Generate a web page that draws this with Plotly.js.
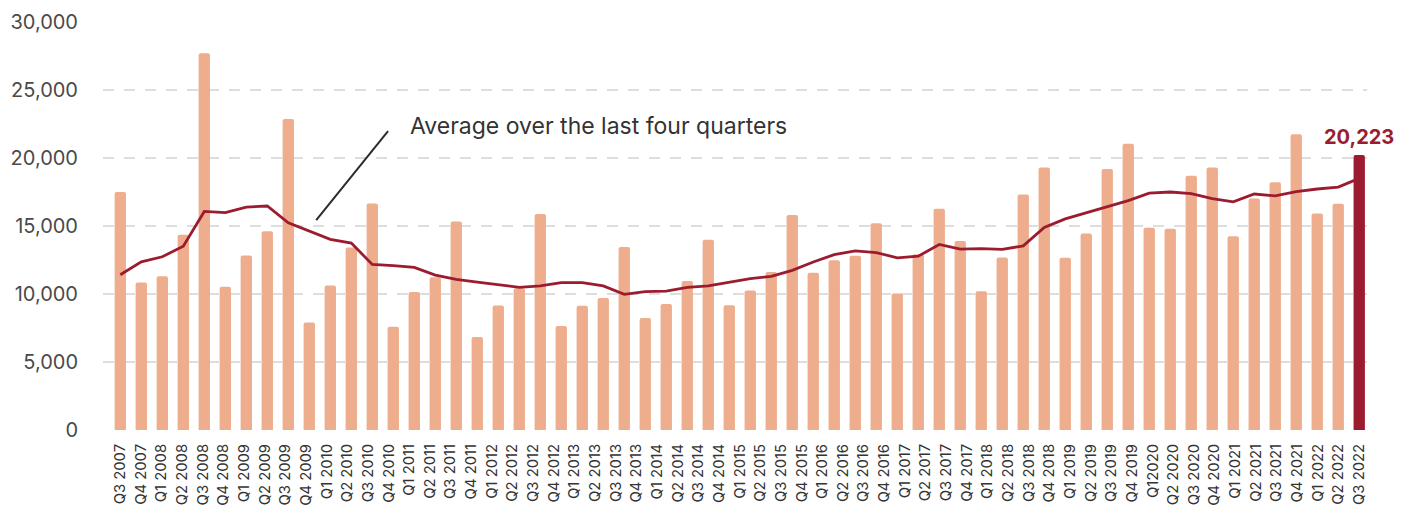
<!DOCTYPE html>
<html>
<head>
<meta charset="utf-8">
<script src="https://cdn.plot.ly/plotly-3.0.1.min.js"></script>
<style>
  html, body { margin: 0; padding: 0; background: #ffffff; }
  #chart { width: 1408px; height: 513px; }
</style>
</head>
<body>
<div id="chart"></div>
<script>
// Tick labels as printed under the chart (61 labels)
const quarterLabels = [
  "Q3 2007","Q4 2007","Q1 2008","Q2 2008","Q3 2008","Q4 2008","Q1 2009","Q2 2009","Q3 2009","Q4 2009",
  "Q1 2010","Q2 2010","Q3 2010","Q4 2010","Q1 2011","Q2 2011","Q3 2011","Q4 2011","Q1 2012","Q2 2012",
  "Q3 2012","Q4 2012","Q1 2013","Q2 2013","Q3 2013","Q4 2013","Q1 2014","Q2 2014","Q3 2014","Q4 2014",
  "Q1 2015","Q2 2015","Q3 2015","Q4 2015","Q1 2016","Q2 2016","Q3 2016","Q4 2016","Q1 2017","Q2 2017",
  "Q3 2017","Q4 2017","Q1 2018","Q2 2018","Q3 2018","Q4 2018","Q1 2019","Q2 2019","Q3 2019","Q4 2019",
  "Q12020","Q2 2020","Q3 2020","Q4 2020","Q1 2021","Q2 2021","Q3 2021","Q4 2021","Q1 2022","Q2 2022",
  "Q3 2022"
];

// Quarterly values (bars)
const quarterlyValues = [
  17500, 10850, 11300, 14350, 27700, 10530, 12830, 14620, 22870, 7910,
  10630, 13420, 16650, 7590, 10140, 11240, 15330, 6830, 9160, 10430,
  15890, 7640, 9130, 9700, 13450, 8230, 9260, 10950, 13980, 9180,
  10260, 11610, 15800, 11560, 12490, 12810, 15210, 10040, 12930, 16260,
  13890, 10210, 12690, 17310, 19300, 12660, 14450, 19200, 21040, 14870,
  14790, 18690, 19300, 14250, 17020, 18220, 21750, 15920, 16630, 20223
];

// Average over the last four quarters (line)
const fourQuarterAverage = [
  11420, 12360, 12740, 13510, 16070, 15990, 16390, 16470, 15240, 14610,
  14020, 13750, 12170, 12090, 11950, 11390, 11070, 10880, 10660, 10490,
  10600, 10840, 10840, 10600, 9970, 10170, 10210, 10480, 10600, 10870,
  11130, 11300, 11740, 12350, 12900, 13170, 13050, 12660, 12780, 13640,
  13300, 13340, 13280, 13540, 14900, 15520, 15960, 16440, 16870, 17410,
  17500, 17380, 17010, 16780, 17350, 17210, 17520, 17720, 17860, 18500
];

const lineLabel = "Average over the last four quarters";

const LIGHT = "#EEAD8C";
const DARK = "#9B1C2F";

const n = quarterlyValues.length;
const idx = quarterlyValues.map((_, i) => i);
const barColors = quarterlyValues.map((_, i) => (i === n - 1 ? DARK : LIGHT));
const tickPos = quarterLabels.map((_, j) => j * (n - 1) / (quarterLabels.length - 1));

const FONT = "Inter, 'Noto Sans', 'DejaVu Sans', sans-serif";

const traces = [
  {
    type: "bar",
    x: idx,
    y: quarterlyValues,
    width: 0.54,
    marker: { color: barColors, line: { width: 0 } },
    hoverinfo: "skip",
    showlegend: false
  },
  {
    type: "scatter",
    mode: "lines",
    x: idx,
    y: fourQuarterAverage,
    name: lineLabel,
    line: { color: DARK, width: 2.8 },
    hoverinfo: "skip",
    showlegend: false
  }
];

const layout = {
  width: 1408,
  height: 513,
  margin: { l: 103, r: 41, t: 22, b: 83 },
  paper_bgcolor: "#ffffff",
  plot_bgcolor: "#ffffff",
  font: { family: FONT, color: "#333333" },
  barcornerradius: 2,
  xaxis: {
    type: "linear",
    range: [-0.824, 59.37],
    tickmode: "array",
    tickvals: tickPos,
    ticktext: quarterLabels,
    tickangle: -90,
    tickfont: { family: FONT, size: 14.8, color: "#333333" },
    ticks: "",
    ticklabelstandoff: 10,
    showgrid: false,
    zeroline: false,
    showline: false,
    automargin: false,
    fixedrange: true
  },
  yaxis: {
    range: [0, 30000],
    tickvals: [0, 5000, 10000, 15000, 20000, 25000, 30000],
    tickformat: ",d",
    tickfont: { family: FONT, size: 20, color: "#4a4a4a" },
    ticks: "",
    ticklabelstandoff: 24,
    showgrid: true,
    gridcolor: "#dedede",
    gridwidth: 2,
    griddash: "11px,10px",
    zeroline: false,
    showline: false,
    automargin: false,
    fixedrange: true
  },
  shapes: [
    {
      type: "line",
      xref: "x", yref: "y",
      x0: 9.33, y0: 15440, x1: 12.75, y1: 21970,
      line: { color: "#2b2b2b", width: 2 }
    }
  ],
  annotations: [
    {
      xref: "x", yref: "y",
      x: 13.71, y: 22340,
      xanchor: "left", yanchor: "middle",
      text: lineLabel,
      showarrow: false,
      font: { family: FONT, size: 23, color: "#333333" }
    },
    {
      xref: "x", yref: "y",
      x: n - 1, y: quarterlyValues[n - 1],
      xanchor: "center", yanchor: "bottom",
      yshift: 4,
      text: quarterlyValues[n - 1].toLocaleString("en-US"),
      showarrow: false,
      font: { family: FONT, size: 20, color: DARK, weight: 700 }
    }
  ]
};

Plotly.newPlot("chart", traces, layout, { displayModeBar: false, staticPlot: true });
</script>
</body>
</html>
